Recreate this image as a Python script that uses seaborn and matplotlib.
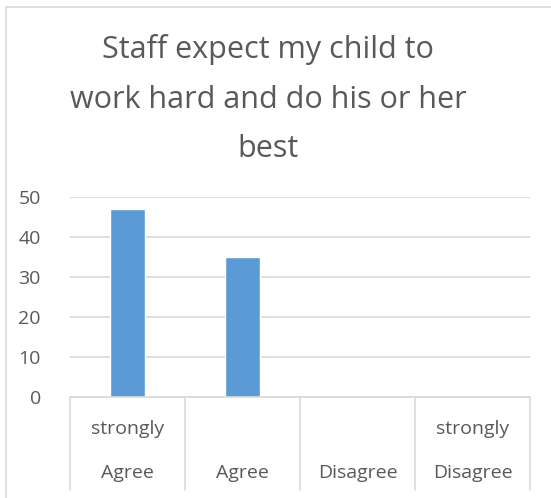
import matplotlib
matplotlib.use("Agg")
import matplotlib.pyplot as plt
import matplotlib.transforms as mtransforms
from matplotlib.lines import Line2D
import seaborn as sns
import pandas as pd

# Chart data
categories = ["strongly\nAgree", "Agree", "Disagree", "strongly\nDisagree"]
counts = [47, 35, 0, 0]
y_ticks = [0, 10, 20, 30, 40, 50]
title = "Staff expect my child to\nwork hard and do his or her\nbest"

BAR_COLOR = "#5B9BD5"
TEXT_COLOR = "#595959"
GRID_COLOR = "#D9D9D9"

sns.set_theme(style="white")
plt.rcParams["font.family"] = ["Open Sans", "DejaVu Sans"]

W, H = 551, 498
fig = plt.figure(figsize=(W / 100, H / 100), dpi=100)
ax = fig.add_axes([70 / W, 1 - 397 / H, 460 / W, 200 / H])

df = pd.DataFrame({"category": categories, "count": counts})
sns.barplot(data=df, x="category", y="count", color=BAR_COLOR, width=0.31,
            saturation=1, ax=ax)

ax.set_xlim(-0.5, len(categories) - 0.5)
ax.set_ylim(0, 50)
ax.set_yticks(y_ticks)
ax.set_yticklabels([str(t) for t in y_ticks], fontsize=14, color=TEXT_COLOR)
ax.tick_params(axis="y", length=0, pad=21)
ax.set_xticks([])
ax.set_xlabel("")
ax.set_ylabel("")
for s in ax.spines.values():
    s.set_visible(False)
ax.grid(axis="y", color=GRID_COLOR, linewidth=1.2)
ax.set_axisbelow(True)

# axis line and category separators, Excel style
ax.axhline(0, color=GRID_COLOR, linewidth=1.2, clip_on=False)
trans = mtransforms.blended_transform_factory(ax.transData, ax.transAxes)
for i in range(len(categories) + 1):
    ax.add_line(Line2D([i - 0.5, i - 0.5], [0, -0.465], transform=trans,
                       color=GRID_COLOR, linewidth=1.2, clip_on=False))

# category labels: last line sits on the bottom row
for i, label in enumerate(categories):
    lines = label.split("\n")
    rows = [-0.38, -0.16]
    for j, line in enumerate(reversed(lines)):
        ax.text(i, rows[j], line, transform=trans, ha="center", va="center",
                fontsize=14, color=TEXT_COLOR)

fig.text(268 / W, 1 - 99 / H, title, ha="center", va="center",
         fontsize=22, color=TEXT_COLOR, linespacing=1.85)

# outer chart border (left and top visible)
fig.add_artist(Line2D([6 / W, 6 / W], [0, 1 - 7 / H], transform=fig.transFigure,
                      color=GRID_COLOR, linewidth=1.2))
fig.add_artist(Line2D([6 / W, 1], [1 - 7 / H, 1 - 7 / H], transform=fig.transFigure,
                      color=GRID_COLOR, linewidth=1.2))

fig.savefig("out.png", dpi=100, facecolor="white")
